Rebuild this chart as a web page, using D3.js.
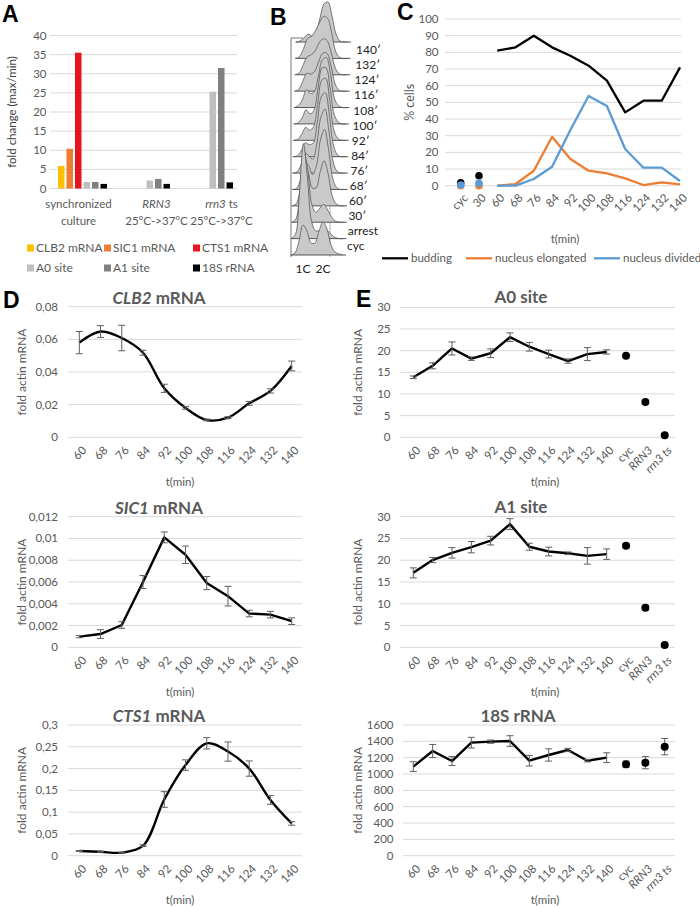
<!DOCTYPE html>
<html><head><meta charset="utf-8">
<script src="https://cdn.jsdelivr.net/npm/d3@7"></script>
<style>
body{margin:0;background:#fff;}
svg{display:block;font-family:Lato,'Open Sans',sans-serif;}
</style></head><body>
<svg id="fig" width="700" height="908"></svg>
<script>
// ================= DATA =================
// Panel A – fold change (max/min)
const groupsA = ["synchronized culture", "RRN3 25°C->37°C", "rrn3 ts 25°C->37°C"];
const seriesA = ["CLB2 mRNA", "SIC1 mRNA", "CTS1 mRNA", "A0 site", "A1 site", "18S rRNA"];
const colorsA = ["#FFC000", "#ED7D31", "#E8141B", "#BFBFBF", "#808080", "#000000"];
const clb2Fold = [5.9, null, null];
const sic1Fold = [10.4, null, null];
const cts1Fold = [35.5, null, null];
const a0Fold   = [1.7, 2.1, 25.3];
const a1Fold   = [1.7, 2.5, 31.5];
const r18sFold = [1.2, 1.2, 1.6];
const yTicksA = [0, 5, 10, 15, 20, 25, 30, 35, 40];

// Panel B – FACS DNA-content profiles (a.u. per DNA bin)
const flowSamples = ["cyc", "arrest", "30′", "60′", "68′", "76′", "84′", "92′", "100′", "108′", "116′", "124′", "132′", "140′"];
const dnaBins = [0, 1, 2, 3, 4, 5, 6, 7, 8, 9, 10, 11, 12, 13];
const flowProfiles = [
  [0, 2, 14, 30, 24, 12, 12, 24, 33, 26, 10, 3, 1, 0],
  [0, 4, 45, 95, 62, 18, 8, 8, 10, 8, 4, 1, 0, 0],
  [0, 3, 30, 72, 52, 18, 10, 14, 18, 12, 5, 1, 0, 0],
  [0, 2, 16, 42, 34, 18, 18, 34, 45, 32, 10, 2, 0, 0],
  [0, 1, 10, 28, 24, 15, 24, 50, 60, 40, 12, 2, 0, 0],
  [0, 1, 8, 20, 17, 14, 30, 56, 64, 42, 12, 2, 0, 0],
  [0, 1, 6, 14, 12, 14, 34, 60, 64, 42, 12, 2, 0, 0],
  [0, 1, 6, 13, 10, 14, 36, 60, 62, 40, 11, 2, 0, 0],
  [0, 1, 6, 14, 10, 14, 36, 56, 56, 36, 10, 2, 0, 0],
  [0, 2, 8, 18, 14, 16, 32, 48, 50, 34, 9, 2, 0, 0],
  [0, 2, 10, 18, 17, 20, 30, 38, 38, 26, 8, 1, 0, 0],
  [0, 2, 10, 18, 20, 24, 32, 36, 34, 22, 7, 1, 0, 0],
  [0, 2, 10, 20, 22, 28, 36, 42, 40, 26, 7, 1, 0, 0],
  [0, 1, 4, 8, 6, 10, 24, 38, 40, 26, 8, 1, 0, 0]
];
const dnaLabels = [{ t: "1C", bin: 3 }, { t: "2C", bin: 8 }];

// Panel C – % cells
const cCats = ["cyc", "30", "60", "68", "76", "84", "92", "100", "108", "116", "124", "132", "140"];
const budding   = [1.8, 6, 81, 83, 90, 83, 78, 72, 63, 44, 51, 51, 71];
const elongated = [0, 0, 0, 1, 9, 29.4, 16, 9, 7.4, 4.4, 0.4, 2, 0.8];
const divided   = [0.4, 1.4, 0, 0, 4, 11.4, 33.4, 53.8, 47.8, 22, 10.8, 10.8, 2.8];
const yTicksC = [0, 10, 20, 30, 40, 50, 60, 70, 80, 90, 100];

// Panel D – fold actin mRNA time courses
const tD = ["60", "68", "76", "84", "92", "100", "108", "116", "124", "132", "140"];
const clb2    = [0.058, 0.0648, 0.0608, 0.0518, 0.0300, 0.0180, 0.0106, 0.0120, 0.0208, 0.0284, 0.0437];
const clb2Err = [0.0068, 0.0036, 0.0078, 0.0015, 0.0025, 0.0008, 0.0005, 0.0006, 0.0012, 0.0013, 0.003];
const sic1    = [0.00098, 0.00122, 0.00205, 0.0060, 0.0101, 0.0085, 0.0059, 0.0047, 0.0031, 0.0030, 0.0024];
const sic1Err = [0.0001, 0.0004, 0.0003, 0.0006, 0.0005, 0.0008, 0.0006, 0.0009, 0.0003, 0.0003, 0.0003];
const cts1    = [0.0107, 0.009, 0.007, 0.023, 0.129, 0.208, 0.258, 0.239, 0.200, 0.128, 0.074];
const cts1Err = [0.001, 0.001, 0.001, 0.002, 0.018, 0.012, 0.013, 0.022, 0.0175, 0.01, 0.004];

// Panel E – rRNA processing sites
const eCats = ["60", "68", "76", "84", "92", "100", "108", "116", "124", "132", "140", "cyc", "RRN3", "rrn3 ts"];
const a0       = [13.85, 16.5, 20.5, 18.15, 19.4, 23.1, 20.9, 19.2, 17.6, 19.2, 19.7];
const a0Err    = [0.3, 0.7, 1.5, 0.4, 1.0, 1.0, 1.0, 0.9, 0.5, 1.5, 0.5];
const a0Ctrl   = [18.8, 8.15, 0.5];
const a0CtrlErr = [0, 0, 0];
const a1       = [17.1, 20.05, 21.7, 23.0, 24.5, 28.3, 23.1, 22.0, 21.6, 21.0, 21.4];
const a1Err    = [1.15, 0.6, 1.2, 1.3, 1.0, 1.25, 0.8, 1.0, 0.3, 1.9, 1.2];
const a1Ctrl   = [23.3, 9.1, 0.5];
const a1CtrlErr = [0.5, 0.5, 0];
const r18s     = [1090, 1282, 1159, 1384, 1396, 1404, 1163, 1233, 1294, 1163, 1200];
const r18sErr  = [60, 80, 55, 65, 20, 65, 65, 75, 20, 15, 60];
const r18sCtrl = [1118, 1139, 1335];
const r18sCtrlErr = [40, 75, 100];

// ================= DRAWING =================
const svg = d3.select("#fig");
svg.append("rect").attr("width", 700).attr("height", 908).attr("fill", "#fff");
const GRID = "#D9D9D9", TXT = "#595959";
const fmtComma = d => d === 0 ? "0" : String(+d.toFixed(5)).replace(".", ",");

function panelLetter(t, x, y) {
  svg.append("text").attr("x", x).attr("y", y).text(t)
    .attr("font-family", "'Liberation Sans',Arial,sans-serif").attr("font-weight", "bold")
    .attr("font-size", 23).attr("fill", "#000");
}

// ---------- Panel A ----------
(function () {
  const g = svg.append("g");
  const y = d3.scaleLinear().domain([0, 40]).range([188.5, 35.5]);
  const x0 = d3.scaleBand().domain(groupsA).range([51, 240]);
  const x1 = d3.scaleBand().domain(seriesA).range([0, x0.bandwidth()]).paddingInner(0.235).paddingOuter(0.82);
  g.selectAll(null).data(yTicksA).join("line")
    .attr("x1", 50).attr("x2", 237).attr("y1", d => y(d)).attr("y2", d => y(d))
    .attr("stroke", GRID).attr("stroke-width", 1);
  g.selectAll(null).data(yTicksA).join("text")
    .attr("x", 46.5).attr("y", d => y(d)).attr("dy", "0.35em").attr("text-anchor", "end")
    .attr("font-size", 11.5).attr("fill", TXT).text(d => d);
  const vals = [clb2Fold, sic1Fold, cts1Fold, a0Fold, a1Fold, r18sFold];
  seriesA.forEach((s, j) => {
    groupsA.forEach((grp, k) => {
      const v = vals[j][k];
      if (v == null) return;
      g.append("rect").attr("x", x0(grp) + x1(s)).attr("width", x1.bandwidth())
        .attr("y", y(v)).attr("height", y(0) - y(v)).attr("fill", colorsA[j]);
    });
  });
  // category labels (slightly offset from band centre, as in the original)
  const nudge = [-4, 11, 13];
  const lab = g.selectAll(null).data(groupsA).join("text")
    .attr("text-anchor", "middle").attr("font-size", 11.5).attr("fill", TXT);
  lab.each(function (d, i) {
    const t = d3.select(this), cx = x0(d) + x0.bandwidth() / 2 + nudge[i];
    const l1 = t.append("tspan").attr("x", cx).attr("y", 207.5);
    if (i === 0) { l1.text("synchronized"); }
    else if (i === 1) { l1.append("tspan").attr("font-style", "italic").text("RRN3"); }
    else { l1.append("tspan").attr("font-style", "italic").text("rrn3"); l1.append("tspan").text(" ts"); }
    t.append("tspan").attr("x", cx).attr("y", 225).text(i === 0 ? "culture" : "25°C->37°C");
  });
  g.append("text").attr("transform", `translate(16,${(y(0) + y(40)) / 2}) rotate(-90)`)
    .attr("text-anchor", "middle").attr("font-size", 11.5).attr("fill", "#404040").text("fold change (max/min)");
  // legend
  const cols = [27, 104, 193], rows = [248, 268];
  seriesA.forEach((s, i) => {
    const lx = cols[i % 3], ly = rows[Math.floor(i / 3)];
    g.append("rect").attr("x", lx).attr("y", ly - 3.5).attr("width", 7).attr("height", 7).attr("fill", colorsA[i]);
    g.append("text").attr("x", lx + 9).attr("y", ly).attr("dy", "0.35em")
      .attr("font-size", 12).attr("fill", TXT).text(s);
  });
  panelLetter("A", 2, 22);
})();

// ---------- Panel B ----------
(function () {
  const g = svg.append("g");
  const yB = d3.scalePoint().domain(flowSamples).range([255, 42]);
  const yL = d3.scalePoint().domain(flowSamples).range([246, 50]);
  const xL = d3.scalePoint().domain(flowSamples).range([347, 356]);
  const shift = d3.scalePoint().domain(flowSamples).range([0, 5]);
  const xD = d3.scaleLinear().domain([0, 13]).range([291, 343]);
  const h = d3.scaleLinear().domain([0, 100]).range([0, 100]);
  g.append("line").attr("x1", 291).attr("x2", 291).attr("y1", 38).attr("y2", 257).attr("stroke", "#777").attr("stroke-width", 1);
  g.append("line").attr("x1", 291).attr("x2", 303).attr("y1", 38).attr("y2", 38).attr("stroke", "#777").attr("stroke-width", 1);
  g.append("line").attr("x1", 330).attr("x2", 330).attr("y1", 120).attr("y2", 257).attr("stroke", "#999").attr("stroke-width", 0.8);
  const order = flowSamples.map((s, i) => i).reverse();
  order.forEach(i => {
    const s = flowSamples[i], base = yB(s), dx = shift(s);
    const pts = dnaBins.map((b, k) => [xD(b) + dx, base - h(flowProfiles[i][k])]);
    const area = d3.area().x(d => d[0]).y0(base).y1(d => d[1]).curve(d3.curveCatmullRom.alpha(0.5));
    g.append("path").attr("d", area(pts)).attr("fill", "#C9C9C9").attr("stroke", "none");
    const line = d3.line().x(d => d[0]).y(d => d[1]).curve(d3.curveCatmullRom.alpha(0.5));
    g.append("path").attr("d", line(pts)).attr("fill", "none").attr("stroke", "#5a5a5a").attr("stroke-width", 0.8);
    g.append("line").attr("x1", xD(0) + dx - 0.5).attr("x2", xD(13) + dx + 3).attr("y1", base).attr("y2", base)
      .attr("stroke", "#555").attr("stroke-width", 1);
  });
  g.selectAll(null).data(flowSamples).join("text")
    .attr("x", d => xL(d)).attr("y", d => yL(d)).attr("dy", "0.35em")
    .attr("font-size", 12).attr("fill", "#222").text(d => d);
  g.selectAll(null).data(dnaLabels).join("text")
    .attr("x", d => xD(d.bin)).attr("y", 273).attr("text-anchor", "middle")
    .attr("font-size", 12).attr("fill", "#222").text(d => d.t);
  panelLetter("B", 270, 25);
})();

// ---------- Panel C ----------
(function () {
  const g = svg.append("g");
  const y = d3.scaleLinear().domain([0, 100]).range([185.7, 19]);
  const x = d3.scalePoint().domain(cCats).range([460.7, 680]);
  g.selectAll(null).data(yTicksC).join("line")
    .attr("x1", 445).attr("x2", 681).attr("y1", d => y(d)).attr("y2", d => y(d)).attr("stroke", GRID);
  g.selectAll(null).data(yTicksC).join("text")
    .attr("x", 438.5).attr("y", d => y(d)).attr("dy", "0.35em").attr("text-anchor", "end")
    .attr("font-size", 11.5).attr("fill", TXT).text(d => d);
  g.selectAll(null).data(cCats).join("text")
    .attr("transform", d => `translate(${x(d) + 5},${y(0) + 10}) rotate(-45)`)
    .attr("text-anchor", "end").attr("dy", "0.35em").attr("font-size", 11.5).attr("fill", TXT).text(d => d);
  const series = [
    { name: "budding", vals: budding, color: "#000000" },
    { name: "nucleus elongated", vals: elongated, color: "#ED7D31" },
    { name: "nucleus divided", vals: divided, color: "#5B9BD5" }
  ];
  const line = d3.line().x(d => x(d.c)).y(d => y(d.v));
  series.forEach(s => {
    const pts = s.vals.map((v, i) => ({ c: cCats[i], v }));
    g.append("path").datum(pts.slice(2)).attr("d", line).attr("fill", "none")
      .attr("stroke", s.color).attr("stroke-width", 2.3).attr("stroke-linejoin", "round");
    g.selectAll(null).data(pts.slice(0, 2)).join("circle")
      .attr("cx", d => x(d.c)).attr("cy", d => y(d.v)).attr("r", 3.8).attr("fill", s.color);
  });
  g.append("text").attr("x", 565).attr("y", 243).attr("text-anchor", "middle")
    .attr("font-size", 11.5).attr("fill", TXT).text("t(min)");
  g.append("text").attr("transform", `translate(414,${(y(0) + y(100)) / 2}) rotate(-90)`)
    .attr("text-anchor", "middle").attr("font-size", 12.5).attr("fill", TXT).text("% cells");
  const lx = [382, 466, 594];
  series.forEach((s, i) => {
    g.append("line").attr("x1", lx[i]).attr("x2", lx[i] + 26).attr("y1", 258.3).attr("y2", 258.3)
      .attr("stroke", s.color).attr("stroke-width", 2.3);
    g.append("text").attr("x", lx[i] + 29).attr("y", 258.3).attr("dy", "0.35em")
      .attr("font-size", 11.5).attr("fill", TXT).text(s.name);
  });
  panelLetter("C", 397, 20);
})();

// ---------- Panels D & E ----------
function linePanel(o) {
  const g = svg.append("g");
  const y = d3.scaleLinear().domain(o.yDomain).range(o.yRange);
  const x = d3.scalePoint().domain(o.cats).range(o.xRange);
  g.selectAll(null).data(o.ticks).join("line")
    .attr("x1", o.grid[0]).attr("x2", o.grid[1]).attr("y1", d => y(d)).attr("y2", d => y(d)).attr("stroke", GRID);
  g.selectAll(null).data(o.ticks).join("text")
    .attr("x", o.tickX).attr("y", d => y(d)).attr("dy", "0.35em").attr("text-anchor", "end")
    .attr("font-size", 11.5).attr("fill", TXT).text(d => fmtComma(d));
  g.selectAll(null).data(o.cats).join("text")
    .attr("transform", d => `translate(${x(d) + 5},${o.yRange[0] + 11}) rotate(-45)`)
    .attr("text-anchor", "end").attr("dy", "0.35em").attr("font-size", 11.5).attr("fill", TXT)
    .attr("font-style", d => (d === "RRN3" || d === "rrn3 ts") ? "italic" : null)
    .text(d => d);
  const pts = o.vals.map((v, i) => ({ c: o.cats[i], v, e: o.err[i] }));
  const errColor = "#5f5f5f";
  const drawErr = (p) => {
    if (!p.e) return;
    const cx = x(p.c), y1 = y(p.v + p.e), y2 = y(p.v - p.e);
    g.append("line").attr("x1", cx).attr("x2", cx).attr("y1", y1).attr("y2", y2).attr("stroke", errColor).attr("stroke-width", 1);
    g.append("line").attr("x1", cx - 3.5).attr("x2", cx + 3.5).attr("y1", y1).attr("y2", y1).attr("stroke", errColor).attr("stroke-width", 1);
    g.append("line").attr("x1", cx - 3.5).attr("x2", cx + 3.5).attr("y1", y2).attr("y2", y2).attr("stroke", errColor).attr("stroke-width", 1);
  };
  g.append("path").datum(pts)
    .attr("d", d3.line().x(d => x(d.c)).y(d => y(d.v)).curve(o.curve))
    .attr("fill", "none").attr("stroke", "#000").attr("stroke-width", 2.4).attr("stroke-linejoin", "round");
  pts.forEach(drawErr);
  if (o.ctrl) {
    const cp = o.ctrl.map((v, i) => ({ c: o.cats[o.vals.length + i], v, e: o.ctrlErr[i] }));
    cp.forEach(drawErr);
    g.selectAll(null).data(cp).join("circle")
      .attr("cx", d => x(d.c)).attr("cy", d => y(d.v)).attr("r", 4).attr("fill", "#000");
  }
  const tt = g.append("text").attr("x", o.titleX).attr("y", o.titleY).attr("text-anchor", "middle")
    .attr("font-size", 17).attr("font-weight", "bold").attr("fill", TXT);
  o.title.forEach(p => tt.append("tspan").attr("font-style", p.i ? "italic" : null).text(p.t));
  g.append("text").attr("transform", `translate(${o.yTitleX},${(o.yRange[0] + o.yRange[1]) / 2}) rotate(-90)`)
    .attr("text-anchor", "middle").attr("font-size", 12).attr("fill", TXT).text("fold actin mRNA");
  g.append("text").attr("x", o.xTitleX).attr("y", o.xTitleY).attr("text-anchor", "middle")
    .attr("font-size", 11.5).attr("fill", TXT).text("t(min)");
}

const catmull = d3.curveCatmullRom.alpha(0.5);
const dCommon = { cats: tD, xRange: [79.3, 291.7], grid: [68, 302], tickX: 58, titleX: 159, yTitleX: 26, xTitleX: 180 };
linePanel(Object.assign({}, dCommon, {
  yDomain: [0, 0.08], yRange: [437.3, 306.7], ticks: [0, 0.02, 0.04, 0.06, 0.08],
  vals: clb2, err: clb2Err, curve: catmull, title: [{ t: "CLB2", i: true }, { t: " mRNA" }],
  titleY: 304, xTitleY: 486
}));
linePanel(Object.assign({}, dCommon, {
  yDomain: [0, 0.012], yRange: [647.3, 516.7], ticks: [0, 0.002, 0.004, 0.006, 0.008, 0.01, 0.012],
  vals: sic1, err: sic1Err, curve: d3.curveLinear, title: [{ t: "SIC1", i: true }, { t: " mRNA" }],
  titleY: 514, xTitleY: 696
}));
linePanel(Object.assign({}, dCommon, {
  yDomain: [0, 0.3], yRange: [855.7, 725], ticks: [0, 0.05, 0.1, 0.15, 0.2, 0.25, 0.3],
  vals: cts1, err: cts1Err, curve: catmull, title: [{ t: "CTS1", i: true }, { t: " mRNA" }],
  titleY: 722, xTitleY: 904
}));
const eCommon = { cats: eCats, xRange: [413.3, 664.7], grid: [400, 675], tickX: 390.5, titleX: 521, yTitleX: 362, xTitleX: 545, curve: d3.curveLinear };
linePanel(Object.assign({}, eCommon, {
  yDomain: [0, 30], yRange: [437.3, 307.3], ticks: [0, 5, 10, 15, 20, 25, 30],
  vals: a0, err: a0Err, ctrl: a0Ctrl, ctrlErr: a0CtrlErr, title: [{ t: "A0 site" }],
  titleY: 303, xTitleY: 486
}));
linePanel(Object.assign({}, eCommon, {
  yDomain: [0, 30], yRange: [647.3, 516.7], ticks: [0, 5, 10, 15, 20, 25, 30],
  vals: a1, err: a1Err, ctrl: a1Ctrl, ctrlErr: a1CtrlErr, title: [{ t: "A1 site" }],
  titleY: 513, xTitleY: 696
}));
linePanel(Object.assign({}, eCommon, {
  yDomain: [0, 1600], yRange: [855.7, 725], ticks: [0, 200, 400, 600, 800, 1000, 1200, 1400, 1600],
  grid: [403, 675], tickX: 393.5, titleX: 518,
  vals: r18s, err: r18sErr, ctrl: r18sCtrl, ctrlErr: r18sCtrlErr, title: [{ t: "18S rRNA" }],
  titleY: 722, xTitleY: 904
}));
panelLetter("D", 3, 308);
panelLetter("E", 356, 307);
</script>
</body></html>
